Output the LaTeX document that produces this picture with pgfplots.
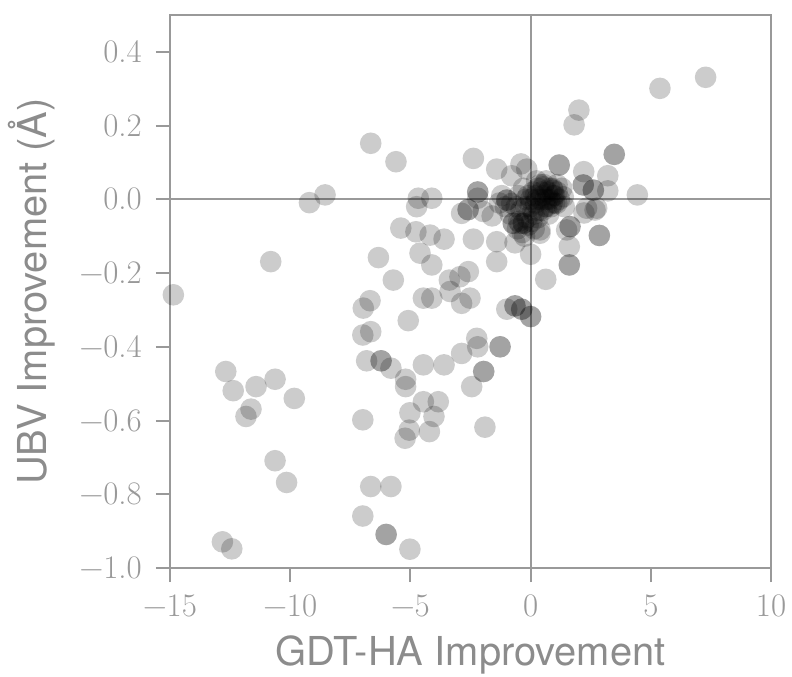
\documentclass[border=0pt]{standalone}
\usepackage{fontspec}
\usepackage{pgfplots}
\pgfplotsset{compat=1.18}
\usetikzlibrary{calc}
\setmainfont{Latin Modern Roman}
\newfontfamily\labelfont{TeX Gyre Heros}
\definecolor{axgray}{gray}{0.6}
\definecolor{labgray}{gray}{0.55}
\pgfplotstableread{
x y
7.28 0.331
5.38 0.301
2.01 0.242
1.81 0.202
3.48 0.122
3.48 0.122
4.44 0.012
3.21 0.064
3.21 0.023
2.21 0.075
1.19 0.093
1.19 0.093
-2.38 0.111
-1.41 0.082
-0.40 0.096
-0.16 0.082
-0.79 0.064
2.61 0.025
2.61 0.025
2.19 0.039
2.19 0.039
-2.20 0.020
-2.20 0.020
-2.20 0.003
-2.60 -0.028
-2.60 -0.028
-2.87 -0.038
-1.97 -0.033
-1.60 -0.045
-0.99 -0.002
-0.99 -0.002
-0.79 -0.011
-0.72 -0.065
-0.72 -0.065
-0.30 -0.065
-0.30 -0.065
-0.44 -0.065
-2.38 -0.108
-1.41 -0.115
-1.41 -0.169
-0.65 -0.118
0.00 -0.149
0.63 -0.217
1.61 -0.128
1.61 -0.178
1.61 -0.178
2.86 -0.098
2.86 -0.098
2.68 -0.029
2.22 -0.037
1.64 -0.074
1.64 -0.074
0.39 -0.083
0.39 -0.092
1.50 -0.083
2.33 -0.024
2.75 -0.024
-0.02 -0.020
0.25 0.000
0.53 0.034
0.94 0.025
1.36 0.007
1.09 -0.011
0.67 -0.020
0.00 0.000
0.10 0.020
0.20 -0.010
0.30 0.030
0.40 0.000
0.50 0.010
0.60 -0.020
0.70 0.020
0.80 0.000
0.90 0.030
1.00 -0.010
1.10 0.020
1.20 0.000
0.35 -0.030
0.55 0.040
0.75 -0.040
0.95 0.010
0.15 -0.040
-0.10 0.010
-0.20 -0.020
0.65 0.050
1.30 0.030
0.45 0.020
0.85 -0.020
0.25 0.050
-0.30 0.030
1.40 -0.020
0.05 -0.060
-0.15 -0.050
0.60 0.000
-1.20 0.010
-0.60 -0.020
-0.50 -0.060
-0.40 -0.030
-1.05 -0.020
-0.85 -0.040
-0.55 -0.080
-0.35 -0.090
-0.10 -0.070
0.10 -0.030
0.30 -0.050
0.50 -0.030
0.70 0.000
0.90 -0.010
1.10 0.040
0.40 0.040
0.20 0.010
0.80 0.030
1.00 0.010
-0.20 0.000
-0.50 0.010
-1.30 -0.010
-0.25 -0.100
0.15 -0.080
-6.65 0.152
-5.60 0.102
-9.20 -0.009
-8.55 0.012
-4.67 0.003
-4.11 0.003
-4.74 -0.020
-5.40 -0.078
-4.77 -0.088
-4.18 -0.097
-3.60 -0.108
-6.33 -0.158
-4.60 -0.146
-4.11 -0.178
-5.71 -0.219
-10.81 -0.169
-14.86 -0.259
-3.38 -0.219
-2.94 -0.210
-2.59 -0.196
-4.46 -0.268
-4.11 -0.268
-2.87 -0.282
-2.52 -0.268
-6.68 -0.275
-6.96 -0.295
-3.35 -0.250
-5.09 -0.329
-6.65 -0.359
-6.98 -0.368
-6.82 -0.438
-6.22 -0.438
-6.22 -0.438
-5.81 -0.458
-5.20 -0.488
-5.20 -0.508
-4.46 -0.449
-3.60 -0.449
-2.87 -0.418
-2.45 -0.508
-1.95 -0.467
-1.95 -0.467
-4.46 -0.549
-3.84 -0.549
-5.02 -0.579
-4.02 -0.589
-5.05 -0.626
-5.22 -0.648
-4.21 -0.630
-1.90 -0.618
-6.98 -0.598
-12.68 -0.467
-12.37 -0.519
-11.42 -0.508
-10.63 -0.488
-9.83 -0.540
-11.63 -0.569
-11.84 -0.589
-10.63 -0.709
-10.15 -0.768
-6.65 -0.779
-5.81 -0.779
-6.98 -0.859
-6.01 -0.909
-6.01 -0.909
-5.02 -0.949
-12.82 -0.929
-12.43 -0.948
-0.99 -0.298
-0.65 -0.289
-0.65 -0.289
-0.37 -0.298
-0.37 -0.298
0.00 -0.318
0.00 -0.318
-2.24 -0.377
-2.20 -0.400
-1.27 -0.400
-1.27 -0.400
}\pts
\begin{document}
\begin{tikzpicture}
\begin{axis}[
  scale only axis, width=601bp, height=553bp,
  xmin=-15, xmax=10, ymin=-1, ymax=0.5,
  xtick={-15,-10,-5,0,5,10},
  xticklabels={−15,−10,−5,0,5,10},
  ytick={-1,-0.8,-0.6,-0.4,-0.2,0,0.2,0.4},
  yticklabels={−1.0,−0.8,−0.6,−0.4,−0.2,0.0,0.2,0.4},
  tick pos=left, tick align=outside, major tick length=14bp,
  axis line style={axgray, line width=2bp},
  every tick/.style={axgray, line width=2bp},
  tick label style={font=\fontsize{33}{40}\selectfont, text=axgray, inner sep=0pt},
  xticklabel style={yshift=-13bp},
  yticklabel style={xshift=-14bp},
  label style={font=\labelfont\fontsize{40}{48}\selectfont, text=labgray},
  xlabel={GDT-HA Improvement},
  ylabel={UBV Improvement (Å)},
  xlabel style={at={(axis description cs:0.5,-0.1772)}, anchor=base},
  ylabel style={at={(axis description cs:-0.2047,0.5)}, anchor=base},
]
\addplot[axgray, line width=2bp] coordinates {(-15,0) (10,0)};
\addplot[axgray, line width=2bp] coordinates {(0,-1) (0,0.5)};
\addplot[black, only marks, mark=*, mark size=10.8bp, mark options={draw opacity=0, line width=0pt, fill=black, fill opacity=0.2}] table[x=x, y=y] {\pts};
\end{axis}
\pgfresetboundingbox
\useasboundingbox ($(current axis.south west)+(-170bp,-109bp)$) rectangle ($(current axis.north east)+(21bp,15bp)$);
\end{tikzpicture}
\end{document}
